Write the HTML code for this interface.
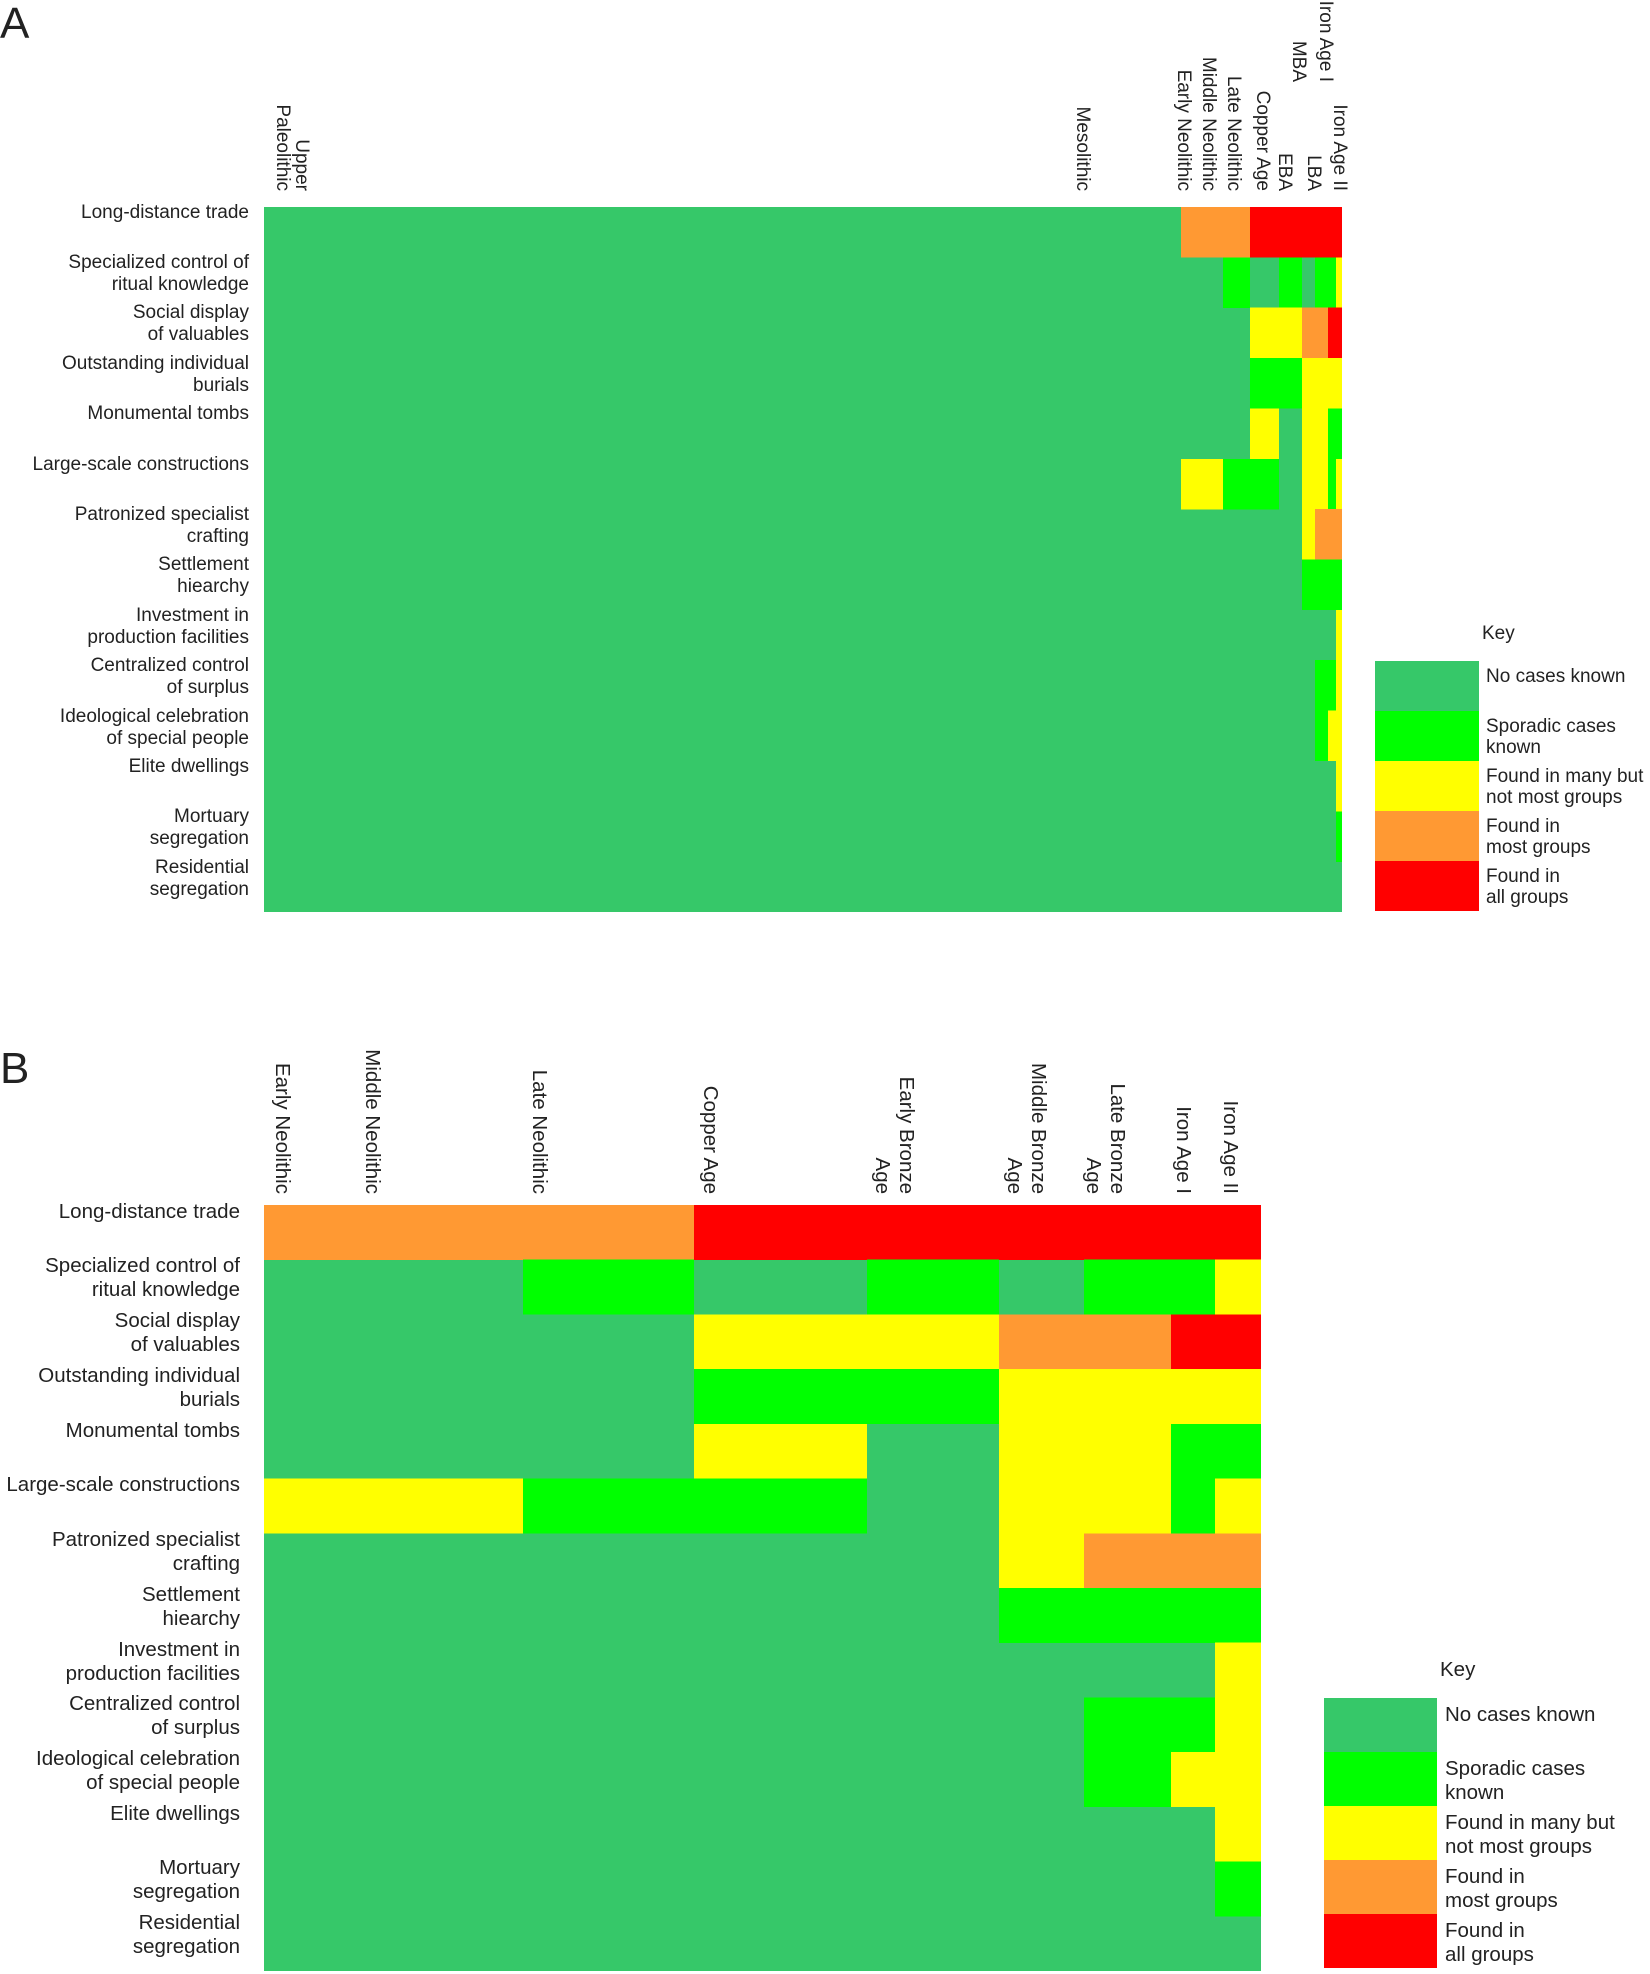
<!DOCTYPE html>
<html><head><meta charset="utf-8"><style>html,body{margin:0;padding:0;background:#fff}svg{display:block}text{font-family:"Liberation Sans",sans-serif;fill:#222}</style></head>
<body>
<svg width="1650" height="1974" viewBox="0 0 1650 1974" xmlns="http://www.w3.org/2000/svg">
<text x="0" y="38" font-size="44">A</text>
<text x="0" y="1083" font-size="44">B</text>

<rect x="264" y="207" width="1078" height="705" fill="#36c869"/>
<g shape-rendering="crispEdges">
<rect x="1181" y="207" width="69" height="50.5" fill="#ff9933"/><rect x="1250" y="207" width="92" height="50.5" fill="#ff0000"/>
<rect x="1223" y="257.4" width="27" height="50.5" fill="#00ff00"/><rect x="1279" y="257.4" width="23" height="50.5" fill="#00ff00"/><rect x="1315" y="257.4" width="21" height="50.5" fill="#00ff00"/><rect x="1336" y="257.4" width="6" height="50.5" fill="#ffff00"/>
<rect x="1250" y="307.7" width="52" height="50.5" fill="#ffff00"/><rect x="1302" y="307.7" width="26" height="50.5" fill="#ff9933"/><rect x="1328" y="307.7" width="14" height="50.5" fill="#ff0000"/>
<rect x="1250" y="358.1" width="52" height="50.5" fill="#00ff00"/><rect x="1302" y="358.1" width="40" height="50.5" fill="#ffff00"/>
<rect x="1250" y="408.4" width="29" height="50.5" fill="#ffff00"/><rect x="1302" y="408.4" width="26" height="50.5" fill="#ffff00"/><rect x="1328" y="408.4" width="14" height="50.5" fill="#00ff00"/>
<rect x="1181" y="458.8" width="42" height="50.5" fill="#ffff00"/><rect x="1223" y="458.8" width="56" height="50.5" fill="#00ff00"/><rect x="1302" y="458.8" width="26" height="50.5" fill="#ffff00"/><rect x="1328" y="458.8" width="8" height="50.5" fill="#00ff00"/><rect x="1336" y="458.8" width="6" height="50.5" fill="#ffff00"/>
<rect x="1302" y="509.2" width="13" height="50.5" fill="#ffff00"/><rect x="1315" y="509.2" width="27" height="50.5" fill="#ff9933"/>
<rect x="1302" y="559.5" width="40" height="50.5" fill="#00ff00"/>
<rect x="1336" y="609.9" width="6" height="50.5" fill="#ffff00"/>
<rect x="1315" y="660.2" width="21" height="50.5" fill="#00ff00"/><rect x="1336" y="660.2" width="6" height="50.5" fill="#ffff00"/>
<rect x="1315" y="710.6" width="13" height="50.5" fill="#00ff00"/><rect x="1328" y="710.6" width="14" height="50.5" fill="#ffff00"/>
<rect x="1336" y="760.9" width="6" height="50.5" fill="#ffff00"/>
<rect x="1336" y="811.3" width="6" height="50.5" fill="#00ff00"/>
</g>

<g font-size="19" text-anchor="end">
<text x="249" y="218">Long-distance trade</text>
<text x="249" y="268">Specialized control of</text><text x="249" y="290">ritual knowledge</text>
<text x="249" y="318">Social display</text><text x="249" y="340">of valuables</text>
<text x="249" y="369">Outstanding individual</text><text x="249" y="391">burials</text>
<text x="249" y="419">Monumental tombs</text>
<text x="249" y="470">Large-scale constructions</text>
<text x="249" y="520">Patronized specialist</text><text x="249" y="542">crafting</text>
<text x="249" y="570">Settlement</text><text x="249" y="592">hiearchy</text>
<text x="249" y="621">Investment in</text><text x="249" y="643">production facilities</text>
<text x="249" y="671">Centralized control</text><text x="249" y="693">of surplus</text>
<text x="249" y="722">Ideological celebration</text><text x="249" y="744">of special people</text>
<text x="249" y="772">Elite dwellings</text>
<text x="249" y="822">Mortuary</text><text x="249" y="844">segregation</text>
<text x="249" y="873">Residential</text><text x="249" y="895">segregation</text>
</g>

<g font-size="19" text-anchor="end">
<text transform="translate(296,191) rotate(90)">Upper</text>
<text transform="translate(277,191) rotate(90)">Paleolithic</text>
<text transform="translate(1077,191) rotate(90)">Mesolithic</text>
<text transform="translate(1178,191) rotate(90)">Early Neolithic</text>
<text transform="translate(1203,191) rotate(90)">Middle Neolithic</text>
<text transform="translate(1228,191) rotate(90)">Late Neolithic</text>
<text transform="translate(1257,191) rotate(90)">Copper Age</text>
<text transform="translate(1279,191) rotate(90)">EBA</text>
<text transform="translate(1293,82) rotate(90)">MBA</text>
<text transform="translate(1308,191) rotate(90)">LBA</text>
<text transform="translate(1320,82) rotate(90)">Iron Age I</text>
<text transform="translate(1334,191) rotate(90)">Iron Age II</text>
</g>

<text x="1482" y="639" font-size="19">Key</text>
<rect x="1375" y="661" width="104" height="50" fill="#36c869"/>
<rect x="1375" y="711" width="104" height="50" fill="#00ff00"/>
<rect x="1375" y="761" width="104" height="50" fill="#ffff00"/>
<rect x="1375" y="811" width="104" height="50" fill="#ff9933"/>
<rect x="1375" y="861" width="104" height="50" fill="#ff0000"/>
<g font-size="19">
<text x="1486" y="682">No cases known</text>
<text x="1486" y="732">Sporadic cases</text><text x="1486" y="753">known</text>
<text x="1486" y="782">Found in many but</text><text x="1486" y="803">not most groups</text>
<text x="1486" y="832">Found in</text><text x="1486" y="853">most groups</text>
<text x="1486" y="882">Found in</text><text x="1486" y="903">all groups</text>
</g>

<rect x="264" y="1205" width="997" height="766" fill="#36c869"/>
<g shape-rendering="crispEdges">
<rect x="264" y="1205" width="430" height="54.8" fill="#ff9933"/><rect x="694" y="1205" width="567" height="54.8" fill="#ff0000"/>
<rect x="523" y="1259.7" width="171" height="54.8" fill="#00ff00"/><rect x="867" y="1259.7" width="132" height="54.8" fill="#00ff00"/><rect x="1084" y="1259.7" width="131" height="54.8" fill="#00ff00"/><rect x="1215" y="1259.7" width="46" height="54.8" fill="#ffff00"/>
<rect x="694" y="1314.4" width="305" height="54.8" fill="#ffff00"/><rect x="999" y="1314.4" width="172" height="54.8" fill="#ff9933"/><rect x="1171" y="1314.4" width="90" height="54.8" fill="#ff0000"/>
<rect x="694" y="1369.1" width="305" height="54.8" fill="#00ff00"/><rect x="999" y="1369.1" width="262" height="54.8" fill="#ffff00"/>
<rect x="694" y="1423.8" width="173" height="54.8" fill="#ffff00"/><rect x="999" y="1423.8" width="172" height="54.8" fill="#ffff00"/><rect x="1171" y="1423.8" width="90" height="54.8" fill="#00ff00"/>
<rect x="264" y="1478.6" width="259" height="54.8" fill="#ffff00"/><rect x="523" y="1478.6" width="344" height="54.8" fill="#00ff00"/><rect x="999" y="1478.6" width="172" height="54.8" fill="#ffff00"/><rect x="1171" y="1478.6" width="44" height="54.8" fill="#00ff00"/><rect x="1215" y="1478.6" width="46" height="54.8" fill="#ffff00"/>
<rect x="999" y="1533.3" width="85" height="54.8" fill="#ffff00"/><rect x="1084" y="1533.3" width="177" height="54.8" fill="#ff9933"/>
<rect x="999" y="1588" width="262" height="54.8" fill="#00ff00"/>
<rect x="1215" y="1642.7" width="46" height="54.8" fill="#ffff00"/>
<rect x="1084" y="1697.4" width="131" height="54.8" fill="#00ff00"/><rect x="1215" y="1697.4" width="46" height="54.8" fill="#ffff00"/>
<rect x="1084" y="1752.1" width="87" height="54.8" fill="#00ff00"/><rect x="1171" y="1752.1" width="90" height="54.8" fill="#ffff00"/>
<rect x="1215" y="1806.8" width="46" height="54.8" fill="#ffff00"/>
<rect x="1215" y="1861.5" width="46" height="54.8" fill="#00ff00"/>
</g>

<g font-size="20.5" text-anchor="end">
<text x="240" y="1218">Long-distance trade</text>
<text x="240" y="1272">Specialized control of</text><text x="240" y="1296">ritual knowledge</text>
<text x="240" y="1327">Social display</text><text x="240" y="1351">of valuables</text>
<text x="240" y="1382">Outstanding individual</text><text x="240" y="1406">burials</text>
<text x="240" y="1437">Monumental tombs</text>
<text x="240" y="1491">Large-scale constructions</text>
<text x="240" y="1546">Patronized specialist</text><text x="240" y="1570">crafting</text>
<text x="240" y="1601">Settlement</text><text x="240" y="1625">hiearchy</text>
<text x="240" y="1656">Investment in</text><text x="240" y="1680">production facilities</text>
<text x="240" y="1710">Centralized control</text><text x="240" y="1734">of surplus</text>
<text x="240" y="1765">Ideological celebration</text><text x="240" y="1789">of special people</text>
<text x="240" y="1820">Elite dwellings</text>
<text x="240" y="1874">Mortuary</text><text x="240" y="1898">segregation</text>
<text x="240" y="1929">Residential</text><text x="240" y="1953">segregation</text>
</g>

<g font-size="20.5" text-anchor="end">
<text transform="translate(276,1194) rotate(90)">Early Neolithic</text>
<text transform="translate(366,1194) rotate(90)">Middle Neolithic</text>
<text transform="translate(533,1194) rotate(90)">Late Neolithic</text>
<text transform="translate(704,1194) rotate(90)">Copper Age</text>
<text transform="translate(900,1194) rotate(90)">Early Bronze</text>
<text transform="translate(876,1194) rotate(90)">Age</text>
<text transform="translate(1032,1194) rotate(90)">Middle Bronze</text>
<text transform="translate(1008,1194) rotate(90)">Age</text>
<text transform="translate(1111,1194) rotate(90)">Late Bronze</text>
<text transform="translate(1087,1194) rotate(90)">Age</text>
<text transform="translate(1177,1194) rotate(90)">Iron Age I</text>
<text transform="translate(1224,1194) rotate(90)">Iron Age II</text>
</g>

<text x="1440" y="1676" font-size="20.5">Key</text>
<rect x="1324" y="1698" width="113" height="54" fill="#36c869"/>
<rect x="1324" y="1752" width="113" height="54" fill="#00ff00"/>
<rect x="1324" y="1806" width="113" height="54" fill="#ffff00"/>
<rect x="1324" y="1860" width="113" height="54" fill="#ff9933"/>
<rect x="1324" y="1914" width="113" height="54" fill="#ff0000"/>
<g font-size="20.5">
<text x="1445" y="1721">No cases known</text>
<text x="1445" y="1775">Sporadic cases</text><text x="1445" y="1799">known</text>
<text x="1445" y="1829">Found in many but</text><text x="1445" y="1853">not most groups</text>
<text x="1445" y="1883">Found in</text><text x="1445" y="1907">most groups</text>
<text x="1445" y="1937">Found in</text><text x="1445" y="1961">all groups</text>
</g>
</svg>
</body></html>
